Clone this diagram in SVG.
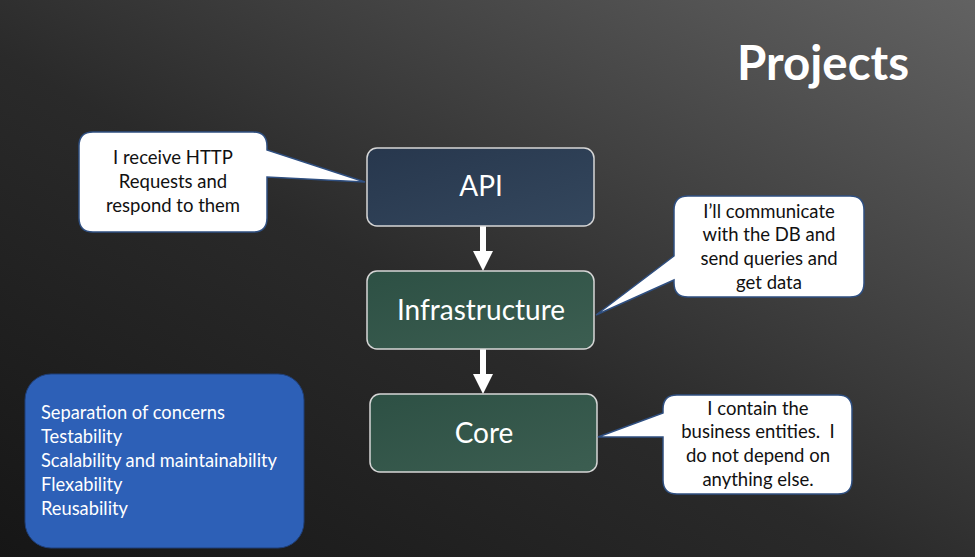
<svg xmlns="http://www.w3.org/2000/svg" width="975" height="557" viewBox="0 0 975 557">
<defs>
<linearGradient id="bg" x1="0" y1="1" x2="1" y2="0">
<stop offset="0" stop-color="#161616"/>
<stop offset="0.45" stop-color="#2a2a2a"/>
<stop offset="1" stop-color="#626262"/>
</linearGradient>
<linearGradient id="gApi" x1="0" y1="0" x2="1" y2="1">
<stop offset="0" stop-color="#27374d"/>
<stop offset="1" stop-color="#34475d"/>
</linearGradient>
<linearGradient id="gGreen" x1="0" y1="0" x2="1" y2="1">
<stop offset="0" stop-color="#2d5044"/>
<stop offset="1" stop-color="#3c5e51"/>
</linearGradient>
<style>
.node{stroke:#d6d6d6;stroke-width:1.5}
.nt{font-family:Lato,"Open Sans",sans-serif;fill:#ffffff;text-anchor:middle;font-size:28px}
.call{fill:#ffffff;stroke:#2f4f80;stroke-width:1.5}
.ct{font-family:Lato,"Open Sans",sans-serif;fill:#111111;text-anchor:middle;font-size:18.5px}
.bt{font-family:Lato,"Open Sans",sans-serif;fill:#ffffff;font-size:18.3px}
.arr{fill:#ffffff}
</style>
</defs>
<rect width="975" height="557" fill="url(#bg)"/>
<text x="823" y="80" font-family="Lato,'Open Sans',sans-serif" font-weight="bold" font-size="47.5" fill="#ffffff" text-anchor="middle">Projects</text>

<g id="connectors">
<path class="arr" d="M480 226 H486 V251 H493 L483 271 L473 251 H480 Z"/>
<path class="arr" d="M480 349 H486 V374 H493 L483 394 L473 374 H480 Z"/>
</g>

<g id="api">
<rect class="node" x="367" y="148" width="227" height="78" rx="10" fill="url(#gApi)"/>
<text class="nt" x="481" y="196" font-size="26">API</text>
</g>
<g id="infrastructure">
<rect class="node" x="367" y="271" width="227" height="78" rx="10" fill="url(#gGreen)"/>
<text class="nt" x="481" y="320">Infrastructure</text>
</g>
<g id="core">
<rect class="node" x="370" y="394" width="227" height="78" rx="10" fill="url(#gGreen)"/>
<text class="nt" x="484" y="443">Core</text>
</g>

<g id="callout-api">
<path class="call" d="M93 132 H253 Q267 132 267 146 V150 L365 182 L267 177 V218 Q267 232 253 232 H93 Q79 232 79 218 V146 Q79 132 93 132 Z"/>
<text class="ct" x="173" y="164">I receive HTTP</text>
<text class="ct" x="173" y="188">Requests and</text>
<text class="ct" x="173" y="212">respond to them</text>
</g>
<g id="callout-infra">
<path class="call" d="M688 196 H850 Q864 196 864 210 V283 Q864 297 850 297 H688 Q674 297 674 283 V280 L596 315 L674 256 V210 Q674 196 688 196 Z"/>
<text class="ct" x="769" y="218">I’ll communicate</text>
<text class="ct" x="769" y="241">with the DB and</text>
<text class="ct" x="769" y="265">send queries and</text>
<text class="ct" x="769" y="289">get data</text>
</g>
<g id="callout-core">
<path class="call" d="M677 395 H838 Q852 395 852 409 V480 Q852 494 838 494 H677 Q663 494 663 480 V437 L598 437 L663 413 V409 Q663 395 677 395 Z"/>
<text class="ct" x="758" y="415">I contain the</text>
<text class="ct" x="758" y="438">business entities.&#160; I</text>
<text class="ct" x="758" y="462">do not depend on</text>
<text class="ct" x="758" y="486">anything else.</text>
</g>

<g id="benefits">
<rect x="25" y="374" width="279" height="174" rx="26" fill="#2d60b7" stroke="#1f3f78" stroke-width="1"/>
<text class="bt" x="41" y="419">Separation of concerns</text>
<text class="bt" x="41" y="443">Testability</text>
<text class="bt" x="41" y="467">Scalability and maintainability</text>
<text class="bt" x="41" y="491">Flexability</text>
<text class="bt" x="41" y="515">Reusability</text>
</g>
</svg>
